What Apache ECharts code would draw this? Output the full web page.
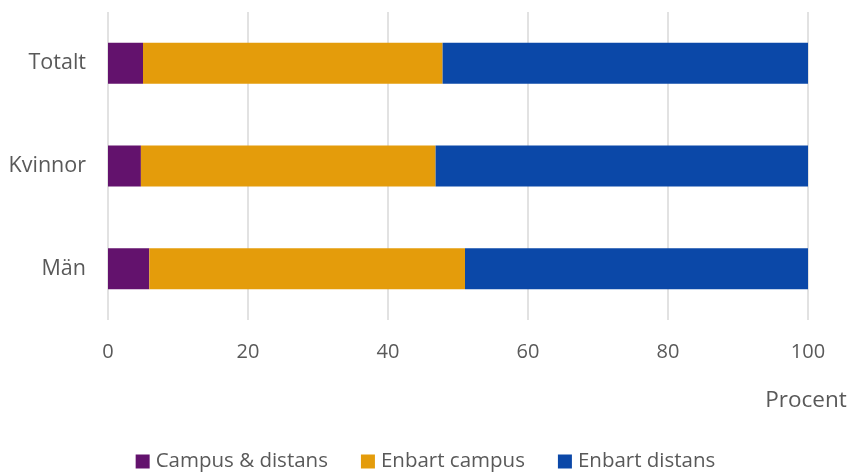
<!DOCTYPE html>
<html><head><meta charset="utf-8">
<script src="https://cdn.jsdelivr.net/npm/echarts@6/dist/echarts.min.js"></script>
<style>html,body{margin:0;padding:0;background:#fff}#c{width:851px;height:472px}</style>
</head><body><div id="c"></div>
<script>
const categories = ['Män', 'Kvinnor', 'Totalt'];
const campusDistans = [5.9, 4.7, 5.0];
const enbartCampus = [45.1, 42.1, 42.8];
const enbartDistans = [49.0, 53.2, 52.2];
const xTicks = [0, 20, 40, 60, 80, 100];

const FONT = '"Open Sans", "Noto Sans", sans-serif';
const TXT = '#595959';
const chart = echarts.init(document.getElementById('c'), null, {renderer: 'canvas'});
const mk = (name, data, color) => ({
  name, type: 'bar', stack: 'a', data, barWidth: '40%',
  itemStyle: {color}, emphasis: {disabled: true}
});
chart.setOption({
  animation: false,
  textStyle: {fontFamily: FONT},
  grid: {left: 108, right: 43, top: 12, bottom: 152, containLabel: false},
  xAxis: {
    type: 'value', min: xTicks[0], max: xTicks[xTicks.length - 1], interval: 20,
    name: 'Procent', nameLocation: 'end', nameGap: -2,
    nameTextStyle: {fontSize: 22.5, color: TXT, align: 'center', verticalAlign: 'top', padding: [69, 0, 0, 0], fontFamily: FONT},
    axisLine: {show: false}, axisTick: {show: false},
    axisLabel: {fontSize: 20, color: TXT, margin: 22, fontFamily: FONT},
    splitLine: {lineStyle: {color: '#d9d9d9', width: 1.5}}
  },
  yAxis: {
    type: 'category', data: categories,
    axisLine: {show: false}, axisTick: {show: false},
    axisLabel: {fontSize: 21.5, color: TXT, margin: 22, fontFamily: FONT}
  },
  legend: {
    top: 446, left: 'center', itemWidth: 14, itemHeight: 14, itemGap: 33,
    icon: 'rect',
    textStyle: {fontSize: 20.5, color: TXT, fontFamily: FONT, padding: [0, 0, 0, 1]},
    data: ['Campus & distans', 'Enbart campus', 'Enbart distans']
  },
  series: [
    mk('Campus & distans', campusDistans, '#63126d'),
    mk('Enbart campus', enbartCampus, '#e49c0b'),
    mk('Enbart distans', enbartDistans, '#0b48a8')
  ]
});
</script></body></html>
